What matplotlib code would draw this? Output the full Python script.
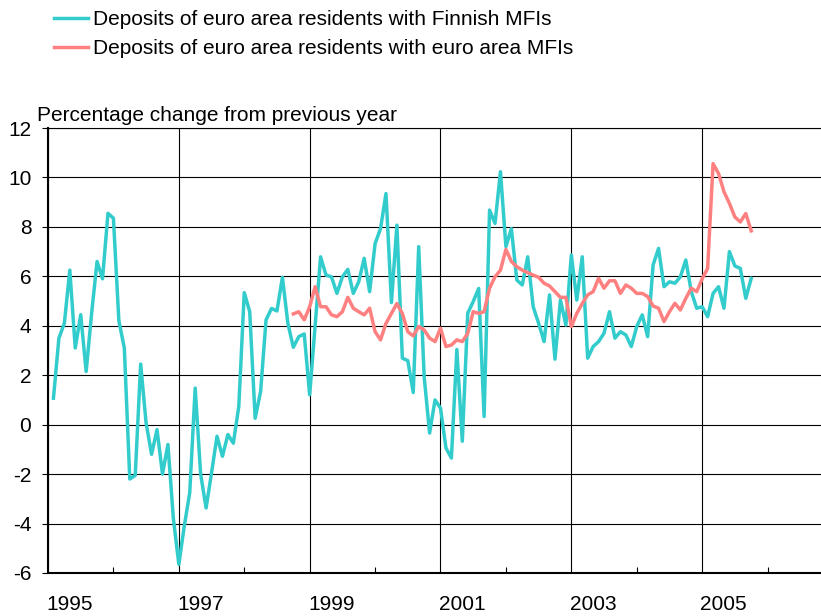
import matplotlib
matplotlib.use("Agg")
import matplotlib.pyplot as plt
import matplotlib.transforms as mtransforms
import numpy as np

plt.rcParams["font.family"] = ["Liberation Sans", "DejaVu Sans"]
plt.rcParams["axes.unicode_minus"] = False

# Monthly year-on-year change, %, Jan 1995 - Sep 2005
start_year = 1995
finnish = [
    1.07, 3.5, 4.1, 6.25, 3.1, 4.45, 2.15, 4.5, 6.6, 5.9, 8.55, 8.35,
    4.2, 3.1, -2.2, -2.05, 2.45, 0.06, -1.2, -0.2, -2.0, -0.8, -3.8, -5.65,
    -4.1, -2.75, 1.48, -2.0, -3.37, -1.95, -0.47, -1.28, -0.4, -0.75, 0.74, 5.34,
    4.57, 0.26, 1.34, 4.24, 4.7, 4.6, 5.96, 4.1, 3.13, 3.56, 3.67, 1.21,
    4.0, 6.79, 6.05, 5.98, 5.31, 5.98, 6.28, 5.31, 5.78, 6.73, 5.38, 7.32,
    7.93, 9.35, 4.94, 8.07, 2.69, 2.59, 1.30, 7.2, 1.95, -0.34, 1.0, 0.67,
    -0.94, -1.35, 3.04, -0.67, 4.51, 4.98, 5.51, 0.33, 8.68, 8.14, 10.23, 7.2,
    7.93, 5.85, 5.65, 6.79, 4.77, 4.1, 3.36, 5.25, 2.65, 5.04, 4.03, 6.86,
    5.04, 6.79, 2.69, 3.16, 3.36, 3.7, 4.57, 3.5, 3.76, 3.63, 3.16, 3.97,
    4.44, 3.56, 6.46, 7.13, 5.58, 5.78, 5.72, 5.98, 6.66, 5.38, 4.71, 4.77,
    4.37, 5.31, 5.58, 4.71, 7.0, 6.42, 6.32, 5.11, 5.92,
]
# euro area series starts Sep 1998
euro_start = 44
euro_area = [
    4.48, 4.57, 4.24, 4.77,
    5.58, 4.77, 4.77, 4.44, 4.37, 4.57, 5.15, 4.71, 4.57, 4.44, 4.71, 3.76,
    3.43, 4.1, 4.5, 4.9, 4.5, 3.76, 3.59, 3.97, 3.83, 3.5, 3.36, 3.9,
    3.16, 3.22, 3.43, 3.36, 3.7, 4.57, 4.5, 4.57, 5.52, 5.98, 6.25, 7.09,
    6.6, 6.39, 6.25, 6.15, 6.05, 5.96, 5.72, 5.61, 5.38, 5.15, 5.15, 3.97,
    4.5, 4.9, 5.25, 5.38, 5.92, 5.52, 5.82, 5.82, 5.31, 5.65, 5.52, 5.31,
    5.31, 5.18, 4.8, 4.71, 4.17, 4.57, 4.91, 4.64, 5.11, 5.52, 5.38, 5.9,
    6.32, 10.56, 10.16, 9.42, 8.95, 8.4, 8.2, 8.54, 7.84,
]

series_labels = [
    "Deposits of euro area residents with Finnish MFIs",
    "Deposits of euro area residents with euro area MFIs",
]
colors = ["#33CCCC", "#FF8080"]
year_labels = [1995, 1997, 1999, 2001, 2003, 2005]

t_fin = start_year + (np.arange(len(finnish)) + 1) / 12
t_euro = start_year + (np.arange(len(euro_area)) + euro_start + 1) / 12

fs = 15

fig = plt.figure(figsize=(8.21, 6.16), dpi=100)
ax = fig.add_axes([48 / 821, 43 / 616, 785 / 821, 445 / 616])

l1, = ax.plot(t_fin, finnish, color=colors[0], lw=2.5)
l2, = ax.plot(t_euro, euro_area, color=colors[1], lw=2.5)

ax.set_xlim(1995, 2007)
ax.set_ylim(-6, 12)
ax.set_yticks(range(-6, 13, 2))
ax.set_xticks(year_labels)
ax.set_xticks(range(1995, 2008), minor=True)
ax.grid(True, which="major", color="black", lw=0.8)
ax.set_axisbelow(True)

ax.tick_params(axis="x", which="major", length=0, pad=16, labelsize=fs)
ax.tick_params(axis="x", which="minor", direction="in", length=4, width=0.8)
ax.tick_params(axis="y", direction="out", length=4, width=0.8, pad=8, labelsize=fs)

shift = mtransforms.ScaledTranslation(0.215, 0, fig.dpi_scale_trans)
for lab in ax.get_xticklabels():
    lab.set_transform(lab.get_transform() + shift)

ax.spines["right"].set_visible(False)
ax.spines["left"].set_linewidth(1.5)
ax.spines["bottom"].set_linewidth(1.5)
ax.spines["top"].set_linewidth(0.8)

fig.text(37 / 821, (616 - 121) / 616, "Percentage change from previous year",
         fontsize=fs, ha="left", va="baseline")

fig.legend([l1, l2], series_labels, loc="upper left",
           bbox_to_anchor=(54 / 821, (616 - 10) / 616), frameon=False,
           fontsize=fs, handlelength=1.65, handletextpad=0.2,
           labelspacing=0.5, borderpad=0, borderaxespad=0)

fig.savefig("out.png", dpi=100)
